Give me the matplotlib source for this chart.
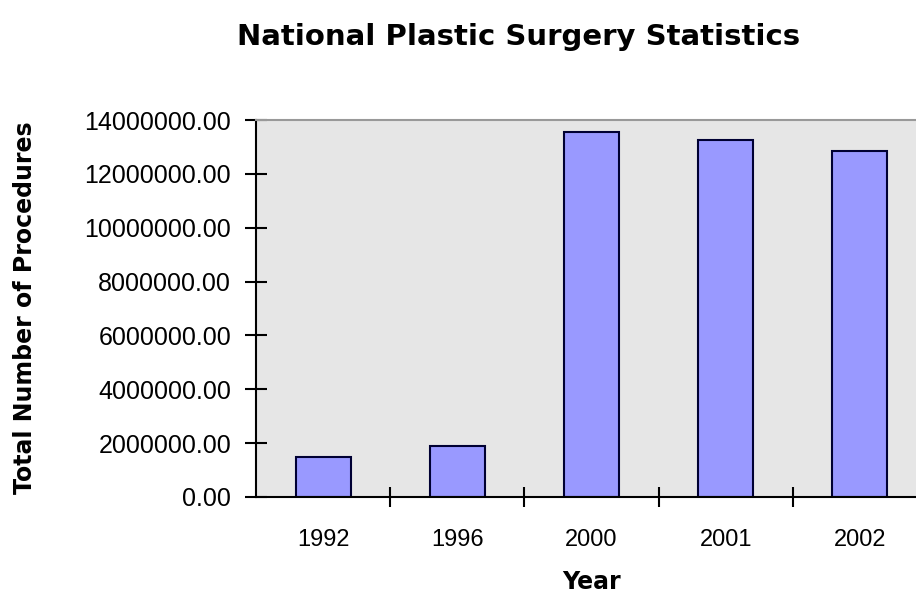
import matplotlib
matplotlib.use('Agg')
import matplotlib.pyplot as plt
import numpy as np

# Données du graphique
annees = ['1992', '1996', '2000', '2001', '2002']
procedures = [1490000, 1900000, 13550000, 13240000, 12840000]
graduations = [0, 2000000, 4000000, 6000000, 8000000, 10000000, 12000000, 14000000]

plt.rcParams['font.family'] = ['Liberation Sans', 'DejaVu Sans']

fig = plt.figure(figsize=(9.16, 5.94), dpi=100)
ax = fig.add_axes([256 / 916, 1 - 497 / 594, (927 - 256) / 916, (497 - 120) / 594])
ax.set_facecolor('#e6e6e6')

x = np.arange(len(annees))
ax.bar(x, procedures, width=0.41, color='#9999ff', edgecolor='#000033', linewidth=1.5)

ax.set_xlim(-0.5, len(annees) - 0.5)
ax.set_ylim(0, 14000000)
ax.set_yticks(graduations)
ax.set_yticklabels(['%.2f' % v for v in graduations], fontsize=18)

# graduations de l'axe x entre les catégories
ax.set_xticks(x)
ax.set_xticklabels(annees, fontsize=17)
ax.tick_params(axis='x', length=0, pad=23)
ax.set_xticks(np.arange(0.5, len(annees) - 0.5), minor=True)
ax.tick_params(axis='x', which='minor', direction='inout', length=14, width=1.5)
ax.tick_params(axis='y', direction='inout', length=16, width=1.5, pad=10)

for s in ['left', 'bottom']:
    ax.spines[s].set_linewidth(1.5)
ax.spines['top'].set_color('#999999')
ax.spines['top'].set_linewidth(1.5)
ax.spines['right'].set_visible(False)

ax.set_xlabel('Year', fontsize=17, fontweight='bold', family='DejaVu Sans', labelpad=14)
fig.text(25 / 916, 1 - 308 / 594, 'Total Number of Procedures', rotation=90,
         fontsize=17, fontweight='bold', family='DejaVu Sans', ha='center', va='center')
fig.text(519 / 916, 1 - 37 / 594, 'National Plastic Surgery Statistics',
         fontsize=21, fontweight='bold', family='DejaVu Sans', ha='center', va='center')

fig.savefig('out.png', dpi=100)
